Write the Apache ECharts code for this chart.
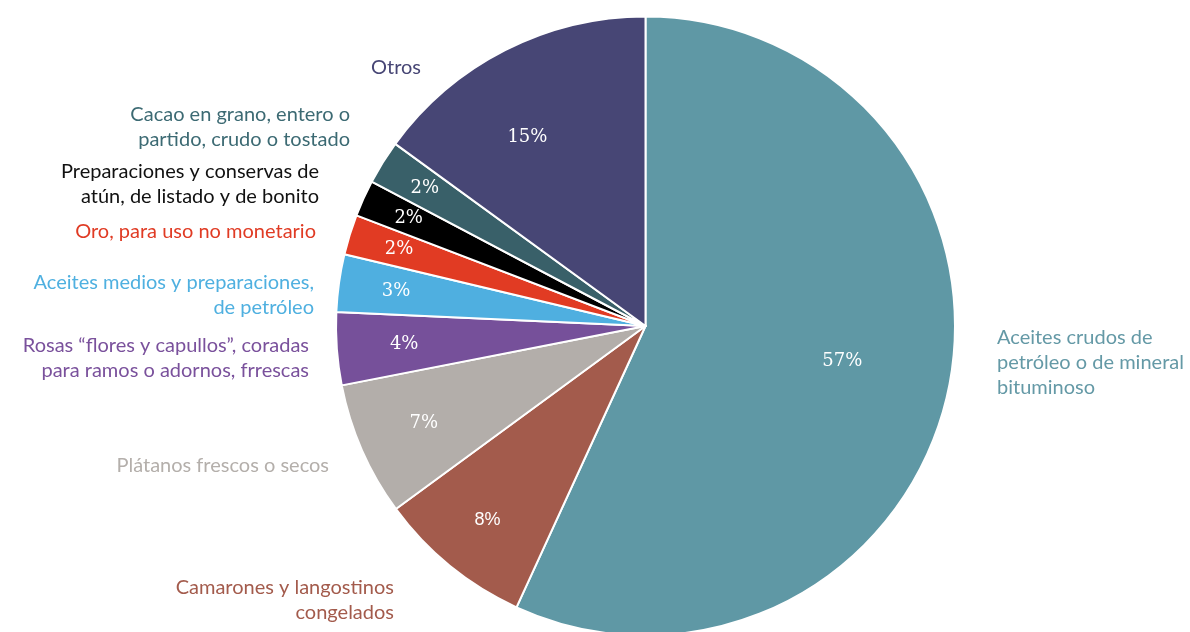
<!DOCTYPE html>
<html>
<head>
<meta charset="utf-8">
<script src="https://cdn.jsdelivr.net/npm/echarts@6/dist/echarts.min.js"></script>
<style>
  html, body { margin: 0; padding: 0; background: #ffffff; }
  #chart { width: 1190px; height: 632px; }
</style>
</head>
<body>
<div id="chart"></div>
<script>
// Export shares by product
const categories = [
  'Aceites crudos de\npetróleo o de mineral\nbituminoso',
  'Camarones y langostinos\ncongelados',
  'Plátanos frescos o secos',
  'Rosas “flores y capullos”, coradas\npara ramos o adornos, frrescas',
  'Aceites medios y preparaciones,\nde petróleo',
  'Oro, para uso no monetario',
  'Preparaciones y conservas de\natún, de listado y de bonito',
  'Cacao en grano, entero o\npartido, crudo o tostado',
  'Otros'
];
const shares = [56.9, 8.1, 7.0, 3.8, 3.0, 2.1, 1.9, 2.3, 15.0];

// Slice and label colours
const sliceColors = ['#5f98a5', '#a35b4c', '#b3aeaa', '#76509a', '#4fafe0', '#e13b23', '#000000', '#396069', '#474675'];
const nameColors  = ['#6499a6', '#a35b4c', '#b4afab', '#7a519c', '#4fb0e0', '#e03b24', '#111111', '#3c6a73', '#474675'];

// Pie geometry (px)
const CX = 645.5, CY = 326, R = 309.5;
// Radial distance of each percentage label from the centre, and a small angular nudge (deg, clockwise)
const pctLabelRadius = [200, 250, 242, 242, 252, 258, 260, 260, 223];
const pctLabelTurn = [-2, 0, 0, 0, 0, 0, 0, 0, -5];
// Anchor for each category name: [x, y, align]
const nameAnchor = [
  [997, 363, 'left'],
  [394, 600, 'right'],
  [329, 466, 'right'],
  [309, 358, 'right'],
  [314, 295, 'right'],
  [316, 232, 'right'],
  [319, 184, 'right'],
  [350, 127, 'right'],
  [421, 68, 'right']
];

const chart = echarts.init(document.getElementById('chart'), null, { renderer: 'canvas' });

const baseData = categories.map((name, i) => ({ name: name, value: shares[i] }));

chart.setOption({
  backgroundColor: '#ffffff',
  animation: false,
  series: [
    {
      type: 'pie',
      center: [CX, CY],
      radius: [0, R],
      startAngle: 90,
      clockwise: true,
      avoidLabelOverlap: false,
      data: baseData.map((d, i) => ({
        name: d.name,
        value: d.value,
        itemStyle: { color: sliceColors[i] },
        label: i === 1 ? { fontFamily: 'Liberation Sans', fontSize: 18 } : {}
      })),
      itemStyle: { borderColor: '#ffffff', borderWidth: 2 },
      label: {
        show: true,
        position: 'inside',
        color: '#ffffff',
        fontFamily: 'DejaVu Serif',
        fontSize: 18,
        formatter: p => Math.round(p.percent) + '%'
      },
      labelLine: { show: false },
      labelLayout: function (params) {
        // push each percentage label out along its slice direction
        const r = params.labelRect;
        const lx = r.x + r.width / 2, ly = r.y + r.height / 2;
        let dx = lx - CX, dy = ly - CY;
        const phi = pctLabelTurn[params.dataIndex] * Math.PI / 180;
        const rx = dx * Math.cos(phi) - dy * Math.sin(phi);
        const ry = dx * Math.sin(phi) + dy * Math.cos(phi);
        const d = Math.sqrt(rx * rx + ry * ry) || 1;
        const k = pctLabelRadius[params.dataIndex] / d;
        return { x: CX + rx * k, y: CY + ry * k, align: 'center', verticalAlign: 'middle' };
      },
      emphasis: { disabled: true }
    },
    {
      type: 'pie',
      center: [CX, CY],
      radius: [0, R],
      startAngle: 90,
      clockwise: true,
      silent: true,
      avoidLabelOverlap: false,
      data: baseData.map((d, i) => ({
        name: d.name,
        value: d.value,
        label: { color: nameColors[i], align: nameAnchor[i][2] }
      })),
      itemStyle: { color: 'rgba(0,0,0,0)', borderWidth: 0 },
      label: {
        show: true,
        position: 'outside',
        fontFamily: 'Lato',
        fontSize: 20,
        lineHeight: 25,
        formatter: '{b}'
      },
      labelLine: { show: false },
      labelLayout: function (params) {
        const a = nameAnchor[params.dataIndex];
        return { x: a[0], y: a[1], align: a[2], verticalAlign: 'middle' };
      },
      emphasis: { disabled: true }
    }
  ]
});
</script>
</body>
</html>
